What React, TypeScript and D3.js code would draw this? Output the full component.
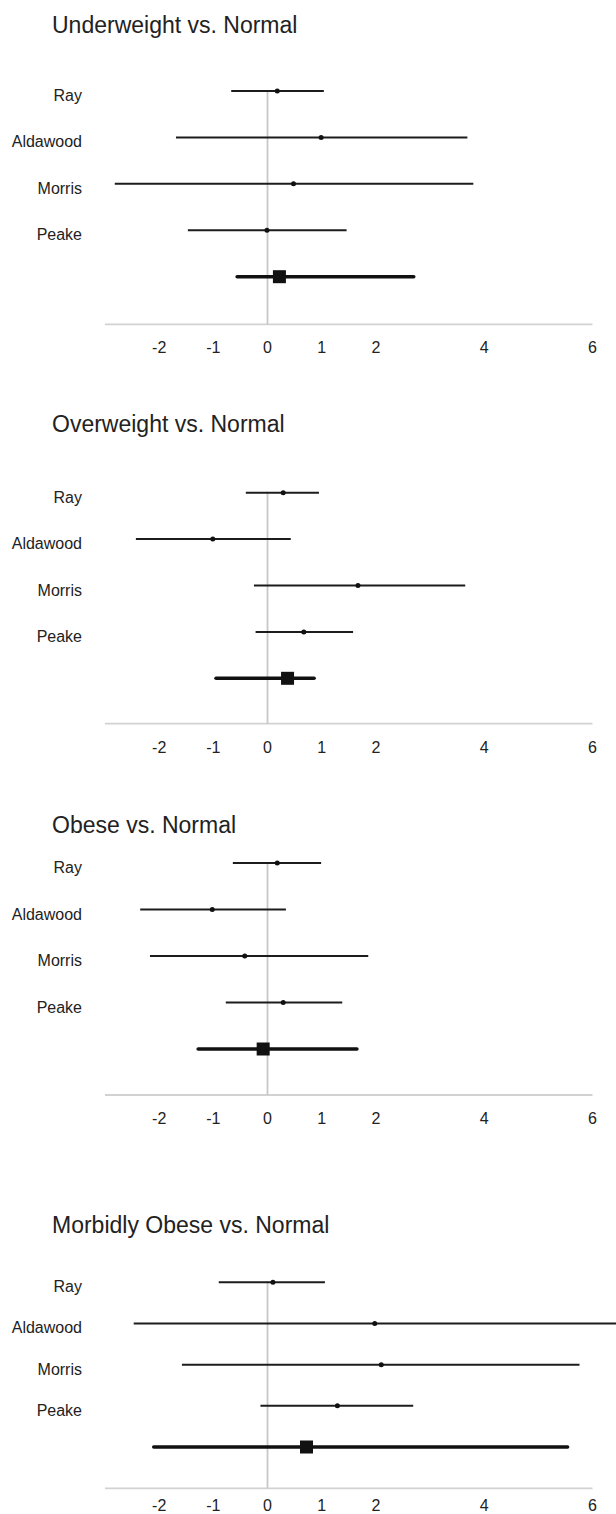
import React from "react";
import * as d3 from "d3";

// study names, top to bottom (last row in each panel is the pooled estimate)
const studies = ["Ray", "Aldawood", "Morris", "Peake"];
const panelTitles = [
  "Underweight vs. Normal",
  "Overweight vs. Normal",
  "Obese vs. Normal",
  "Morbidly Obese vs. Normal",
];
const tickValues = [-2, -1, 0, 1, 2, 4, 6];

// per-study estimates with lower / upper limits
const underweightPoint = [0.18, 0.99, 0.48, -0.01];
const underweightLower = [-0.67, -1.69, -2.82, -1.47];
const underweightUpper = [1.04, 3.69, 3.8, 1.46];

const overweightPoint = [0.29, -1.01, 1.67, 0.67];
const overweightLower = [-0.4, -2.43, -0.25, -0.22];
const overweightUpper = [0.95, 0.43, 3.65, 1.58];

const obesePoint = [0.18, -1.02, -0.42, 0.29];
const obeseLower = [-0.64, -2.35, -2.17, -0.77];
const obeseUpper = [0.99, 0.34, 1.86, 1.38];

const morbidPoint = [0.1, 1.98, 2.1, 1.29];
const morbidLower = [-0.9, -2.47, -1.58, -0.13];
const morbidUpper = [1.06, 6.8, 5.76, 2.69];

// pooled estimates, one per panel
const pooledPoint = [0.22, 0.37, -0.08, 0.72];
const pooledLower = [-0.56, -0.95, -1.28, -2.1];
const pooledUpper = [2.7, 0.86, 1.65, 5.54];

const panelPoints = [underweightPoint, overweightPoint, obesePoint, morbidPoint];
const panelLowers = [underweightLower, overweightLower, obeseLower, morbidLower];
const panelUppers = [underweightUpper, overweightUpper, obeseUpper, morbidUpper];

// vertical layout of each panel (pixels)
const layout = [
  { titleY: 32.5, top: 91, bottom: 276.7, axisY: 324.3, tickY: 353.3 },
  { titleY: 432.3, top: 492.7, bottom: 678.3, axisY: 723.7, tickY: 752.7 },
  { titleY: 833, top: 863, bottom: 1049, axisY: 1095, tickY: 1124 },
  { titleY: 1233, top: 1282.3, bottom: 1447, axisY: 1488.3, tickY: 1511 },
];

const W = 616;
const H = 1514;
const font = "'Liberation Sans', Arial, Helvetica, sans-serif";

const x = d3.scaleLinear().domain([-3, 6]).range([105, 592.5]);

const Panel = ({ idx }: { idx: number }) => {
  const L = layout[idx];
  const rows = [...studies, "pooled"];
  const y = d3.scalePoint<string>().domain(rows).range([L.top, L.bottom]);
  const pts = panelPoints[idx];
  const lo = panelLowers[idx];
  const hi = panelUppers[idx];
  const py = y("pooled") as number;

  return (
    <g>
      <text x={52} y={L.titleY} fontSize={23} fill="#222" fontFamily={font}>
        {panelTitles[idx]}
      </text>

      {/* axis line + zero reference */}
      <line x1={x(-3)} x2={x(6)} y1={L.axisY} y2={L.axisY} stroke="#d2d2d2" strokeWidth={1.8} />
      <line x1={x(0)} x2={x(0)} y1={L.top - 1} y2={L.axisY} stroke="#c8c8c8" strokeWidth={1.8} />

      {tickValues.map(t => (
        <text key={t} x={x(t)} y={L.tickY} fontSize={16} fill="#222" textAnchor="middle" fontFamily={font}>
          {t}
        </text>
      ))}

      {studies.map((s, i) => {
        const yy = y(s) as number;
        return (
          <g key={s}>
            <text x={82} y={yy + 10} fontSize={16} fill="#222" textAnchor="end" fontFamily={font}>
              {s}
            </text>
            <line x1={x(lo[i])} x2={x(hi[i])} y1={yy} y2={yy} stroke="#1c1c1c" strokeWidth={2} />
            <circle cx={x(pts[i])} cy={yy} r={2.5} fill="#111" />
          </g>
        );
      })}

      {/* pooled estimate */}
      <line
        x1={x(pooledLower[idx])}
        x2={x(pooledUpper[idx])}
        y1={py}
        y2={py}
        stroke="#111"
        strokeWidth={3.6}
        strokeLinecap="round"
      />
      <rect x={x(pooledPoint[idx]) - 6.5} y={py - 6.5} width={13} height={13} fill="#111" />
    </g>
  );
};

export default function App() {
  return (
    <svg
      width={W}
      height={H}
      style={{ position: "absolute", left: 0, top: 0, background: "#fff" }}
    >
      {panelTitles.map((_, i) => (
        <Panel key={i} idx={i} />
      ))}
    </svg>
  );
}
